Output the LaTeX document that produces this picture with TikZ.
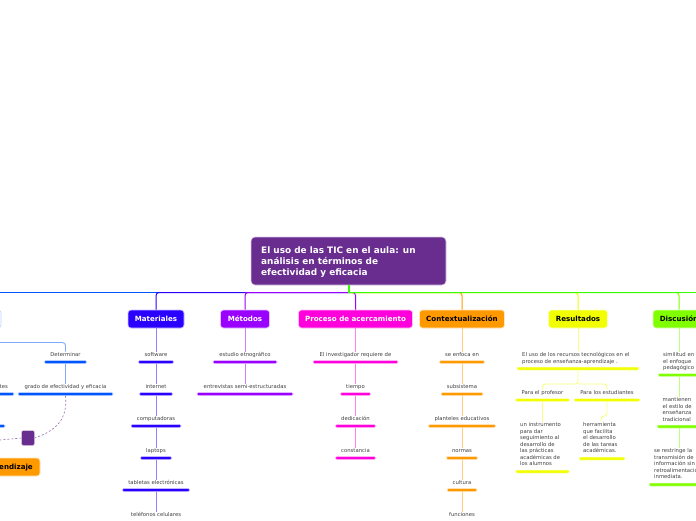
\documentclass[tikz,border=0pt]{standalone}
\usepackage{fontspec}
\setmainfont{DejaVu Sans}
\definecolor{cpurple}{HTML}{692C8F}
\definecolor{cblue}{HTML}{0055FF}
\definecolor{cindigo}{HTML}{2A00FF}
\definecolor{cviolet}{HTML}{9900FF}
\definecolor{cmag}{HTML}{FF00DD}
\definecolor{corange}{HTML}{FF9900}
\definecolor{cyellow}{HTML}{F2FF00}
\definecolor{cgreen}{HTML}{7FFF00}
\definecolor{ctrunk}{HTML}{33FF00}
\definecolor{ctext}{HTML}{404040}
\tikzset{
  topic/.style={rounded corners=3pt,minimum height=18pt,inner sep=0pt,draw=#1!25,line width=0.7pt,fill=#1,text height=6.8pt,text depth=1pt,font=\fontsize{7.1}{8}\selectfont\bfseries,text=white},
  topicdark/.style={topic=#1,text=black},
  lbl/.style={inner sep=1pt,text=ctext,text height=3.8pt,text depth=1.4pt,font=\fontsize{5.3}{6.5}\selectfont},
  mlbl/.style={inner sep=1pt,text=ctext,align=left,font=\fontsize{5.3}{6.5}\selectfont},
  ul/.style={rounded corners=1.2pt,inner sep=0pt,minimum height=3pt,fill=#1,draw=#1!25,line width=0.5pt},
  conn/.style={draw=#1!50,line width=0.9pt,rounded corners=3pt},
  trunk/.style={draw=#1,line width=1pt,rounded corners=3pt},
  relation/.style={cpurple!70,dash pattern=on 2pt off 2pt,line width=0.6pt}
}
\newcommand{\itm}[7]{% name, cx, text y, underline y, width, colour, text
  \node[lbl] (#1t) at (#2,#3) {#7};
  \node[ul=#6,minimum width=#5pt] (#1u) at (#2,#4) {};
}
\begin{document}
\begin{tikzpicture}[x=1pt,y=-1pt]
\useasboundingbox (0,0) rectangle (696,520);
\clip (0,0) rectangle (696,520);
\fill[white] (0,0) rectangle (696,520);

% central
\node[rounded corners=4pt,fill=cpurple,draw=cpurple!25,line width=0.6pt,minimum width=195pt,minimum height=48pt,inner sep=0pt] (root) at (348.5,261) {};
\node[anchor=west,align=left,inner sep=0pt,text=white,font=\fontsize{8.9}{11}\selectfont\bfseries] (roottext) at (261,261.7) {El uso de las TIC en el aula: un\\análisis en términos de\\efectividad y eficacia};

% topics
\node[topic=cindigo,minimum width=56pt] (tmat) at (156,319) {Materiales};
\node[topic=cviolet,minimum width=49pt] (tmet) at (245,319) {Métodos};
\node[topic=cmag,minimum width=114pt] (tpro) at (355.5,319) {Proceso de acercamiento};
\node[topicdark=corange,minimum width=85pt] (tcon) at (462,319) {Contextualización};
\node[topicdark=cyellow,minimum width=59pt] (tres) at (578,319) {Resultados};
\node[topicdark=cgreen,minimum width=52pt] (tdis) at (679,319) {Discusión};
\node[topic=cblue,minimum width=30pt,fill=white] (tintro) at (-14,319) {};
\node[topicdark=corange,minimum width=70pt] (tapr) at (5,467) {};
\node[anchor=east,inner sep=0pt,font=\fontsize{7.1}{8}\selectfont\bfseries] (taprt) at (33,468) {endizaje};

% trunk
\coordinate (tk) at (349,292.5);
\draw[trunk=cblue] (tk) -- (0,292.5);
\draw[trunk=cindigo] (tk) -| (tmat.north);
\draw[trunk=cviolet] (tk) -| (tmet.north);
\draw[trunk=cviolet] (tk) -| (tpro.north);
\draw[draw=corange,line width=1pt,rounded corners=3pt] (tk) -| (tcon.north);
\draw[draw=cyellow,line width=1pt,rounded corners=3pt] (tk) -| (tres.north);
\draw[draw=cgreen,line width=1pt,rounded corners=3pt] (tk) -| (tdis.north);
\draw[trunk=cviolet] (tk) -- (tmet.north |- tk);
\draw[trunk=ctrunk] (tk) -- (696,292.5);
\draw[draw=ctrunk,line width=1.5pt] (root.south -| tk) -- (tk);

% Materiales
\itm{ma}{156}{355.5}{362}{35}{cindigo}{software}
\itm{mb}{156}{387.5}{394}{33}{cindigo}{internet}
\itm{mc}{156}{419.5}{426}{50}{cindigo}{computadoras}
\itm{md}{156}{451.5}{458}{31}{cindigo}{laptops}
\itm{me}{156}{483.5}{490}{67}{cindigo}{tabletas electrónicas}
\node[lbl] (mft) at (156,515.5) {teléfonos celulares};
\draw[conn=cindigo] (tmat.south) -- (mat.north);
\foreach \a/\b in {ma/mb,mb/mc,mc/md,md/me,me/mf}
  \draw[conn=cindigo] (\a u.south) -- (\b t.north);

% Métodos
\itm{ea}{245}{355.5}{362}{64}{cviolet}{estudio etnográfico}
\itm{eb}{245}{387.5}{394}{96}{cviolet}{entrevistas semi-estructuradas}
\draw[conn=cviolet] (tmet.south) -- (eat.north);
\draw[conn=cviolet] (eau.south) -- (ebt.north);

% Proceso
\itm{pa}{355.5}{355.5}{362}{85}{cmag}{El investigador requiere de}
\itm{pb}{355.5}{387.5}{394}{30}{cmag}{tiempo}
\itm{pc}{355.5}{419.5}{426}{40}{cmag}{dedicación}
\itm{pd}{355.5}{451.5}{458}{40}{cmag}{constancia}
\draw[conn=cmag] (tpro.south) -- (pat.north);
\foreach \a/\b in {pa/pb,pb/pc,pc/pd}
  \draw[conn=cmag] (\a u.south) -- (\b t.north);

% Contextualización
\itm{ca}{462}{355.5}{362}{45}{corange}{se enfoca en}
\itm{cb}{462}{387.5}{394}{42}{corange}{subsistema}
\itm{cc}{462}{419.5}{426}{67}{corange}{planteles educativos}
\itm{cd}{462}{451.5}{458}{31}{corange}{normas}
\itm{ce}{462}{483.5}{490}{30}{corange}{cultura}
\node[lbl] (cft) at (462,515.5) {funciones};
\draw[conn=corange] (tcon.south) -- (cat.north);
\foreach \a/\b in {ca/cb,cb/cc,cc/cd,cd/ce,ce/cf}
  \draw[conn=corange] (\a u.south) -- (\b t.north);

% Resultados
\node[mlbl,anchor=west] (rat) at (521,358.5) {El uso de los recursos tecnológicos en el\\proceso de enseñanza-aprendizaje .};
\node[ul=cyellow,minimum width=122pt] (rau) at (578,368.5) {};
\draw[conn=cyellow] (tres.south) -- (rat.north -| tres.south);
\itm{rb}{542.5}{393.5}{400}{54}{cyellow}{Para el profesor}
\itm{rc}{607}{393.5}{400}{66}{cyellow}{Para los estudiantes}
\coordinate (rj) at (578,384);
\draw[conn=cyellow] (rau.south) -- (rj) -| (rbt.north);
\draw[conn=cyellow] (rj) -| (rct.north);
\node[mlbl,anchor=north west] (rdt) at (519,421.5) {un instrumento\\para dar\\seguimiento al\\desarrollo de\\las prácticas\\académicas de\\los alumnos};
\node[ul=cyellow,minimum width=54pt] (rdu) at (542.5,471.5) {};
\node[mlbl,anchor=north west] (ret) at (582,421.5) {herramienta\\que facilita\\el desarrollo\\de las tareas\\académicas.};
\node[ul=cyellow,minimum width=46pt] (reu) at (602,458.5) {};
\draw[conn=cyellow] (rbu.south) -- (rbu.south |- rdt.north);
\coordinate (rk) at (601,416);
\draw[conn=cyellow] (rcu.south) |- (rk) -- (rk |- ret.north);

% Discusión
\node[mlbl,anchor=north west] (dat) at (662,351.5) {similitud en\\el enfoque\\pedagógico};
\node[ul=cgreen,minimum width=50pt] (dau) at (683,375) {};
\node[mlbl,anchor=north west] (dbt) at (661.5,396.5) {mantienen\\el estilo de\\enseñanza\\tradicional};
\node[ul=cgreen,minimum width=50pt] (dbu) at (682,426.5) {};
\node[mlbl,anchor=north west] (dct) at (653,447.5) {se restringe la\\transmisión de\\información sin\\retroalimentación\\inmediata.};
\node[ul=cgreen,minimum width=60pt] (dcu) at (679,484.5) {};
\draw[conn=cgreen] (tdis.south) -- (tdis.south |- dat.north);
\draw[conn=cgreen] (tdis.south |- dau.south) -- (tdis.south |- dbt.north);
\draw[conn=cgreen] (tdis.south |- dbu.south) -- (tdis.south |- dct.north);

% left branch
\itm{la}{65.5}{355.5}{362}{42}{cblue}{Determinar}
\itm{lb}{65.5}{387.5}{394}{95}{cblue}{grado de efectividad y eficacia}
\coordinate (lfa) at (0,342.5);
\draw[conn=cblue] (lfa) -| (lat.north);
\draw[conn=cblue] (lau.south) -- (lbt.north);
\node[lbl,anchor=east] (lct) at (9,387.5) {tes};
\node[ul=cblue,minimum width=40pt] (lcu) at (-6,394) {};
\node[ul=cblue,minimum width=40pt] (ldu) at (-15,426) {};
\node[rounded corners=2pt,fill=cpurple,draw=cpurple!25,line width=0.5pt,minimum width=13pt,minimum height=15pt,inner sep=0pt] (pur) at (28,438) {};
\coordinate (lft) at (0,440);
\draw[relation] (lbu.south) .. controls (68,420) and (55,431) .. (pur.east);
\draw[relation] (pur.west) -- (lft);
\end{tikzpicture}
\end{document}
